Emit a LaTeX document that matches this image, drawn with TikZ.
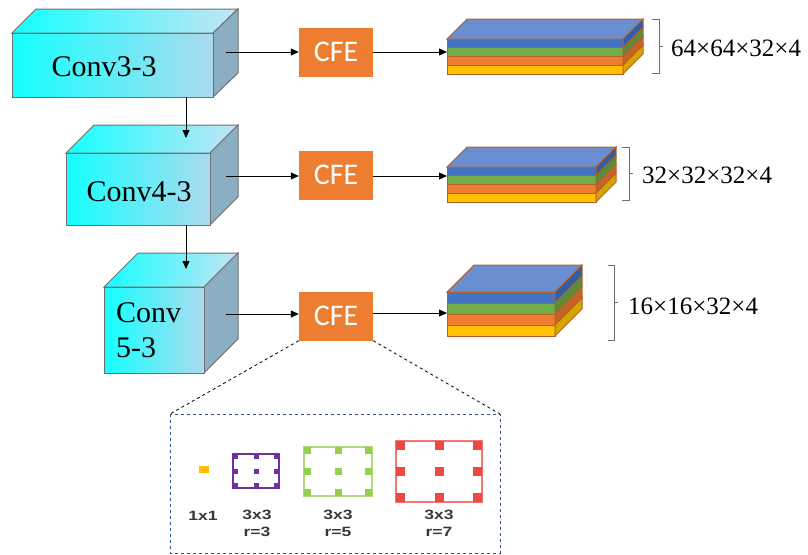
\documentclass[tikz,border=0pt]{standalone}
\usepackage{fontspec}
\setmainfont{Liberation Serif}
\newfontfamily\cfefont{Carlito}
\newfontfamily\lblfont{Liberation Sans}
\usetikzlibrary{arrows.meta}
\definecolor{cyanL}{RGB}{20,255,255}
\definecolor{cyanR}{RGB}{172,218,238}
\definecolor{topR}{RGB}{196,228,244}
\definecolor{sideC}{RGB}{138,175,194}
\definecolor{boxedge}{RGB}{112,112,112}
\definecolor{cfeC}{RGB}{237,125,49}
\definecolor{edgeC}{RGB}{184,96,40}
\definecolor{topblue}{RGB}{106,143,208}
\definecolor{lblue}{RGB}{68,114,196}
\definecolor{dblue}{RGB}{52,92,160}
\definecolor{lgreen}{RGB}{112,173,71}
\definecolor{dgreen}{RGB}{88,140,56}
\definecolor{lorange}{RGB}{237,125,49}
\definecolor{dorange}{RGB}{196,100,40}
\definecolor{lyellow}{RGB}{255,192,0}
\definecolor{dyellow}{RGB}{214,165,0}
\definecolor{dashblue}{RGB}{47,85,151}
\definecolor{kpurple}{RGB}{112,48,160}
\definecolor{kgreen}{RGB}{146,208,80}
\definecolor{kgreenL}{RGB}{170,220,120}
\definecolor{kred}{RGB}{236,72,68}
\definecolor{kredL}{RGB}{240,120,115}
\definecolor{kyellow}{RGB}{255,192,0}
\definecolor{brace}{RGB}{110,110,110}
\tikzset{
  arr/.style={-{Triangle[length=8pt,width=7pt]}, line width=0.8pt, black},
  cfebox/.style={fill=cfeC, text=white, minimum width=74pt, minimum height=49pt, inner sep=0pt, font=\cfefont\fontsize{30}{30}\selectfont},
  convtxt/.style={font=\fontsize{30}{32}\selectfont, inner sep=0pt},
  dimtxt/.style={font=\fontsize{25}{26}\selectfont, anchor=west, inner sep=0pt},
  ktxt/.style={font=\lblfont\bfseries\fontsize{13.5}{16.5}\selectfont, text=black!78, align=center, inner sep=0pt},
  bracestyle/.style={draw=brace, line width=0.9pt},
}
\newcommand{\ks}[1]{\scalebox{1.3}[1]{#1}}
\newcommand{\convbox}[5]{% x1 y1 x2 y2 d
  \filldraw[left color=cyanL, right color=topR, draw=boxedge, line width=1pt]
    (#1,#2) -- (#1+#5,#2-#5) -- (238,#2-#5) -- (#3,#2) -- cycle;
  \filldraw[fill=sideC, draw=boxedge, line width=1pt]
    (#3,#2) -- (238,#2-#5) -- (238,#4-#5) -- (#3,#4) -- cycle;
  \filldraw[left color=cyanL, right color=cyanR, draw=boxedge, line width=1pt]
    (#1,#2) rectangle (#3,#4);
}
\newcommand{\myslab}[5]{% x1 y1 x2 y2 d
  \pgfmathsetmacro{\hh}{(#4-#2)/4}
  \filldraw[fill=topblue, draw=edgeC, line width=1pt]
    (#1,#2) -- (#1+#5,#2-#5) -- (#3+#5,#2-#5) -- (#3,#2) -- cycle;
  \foreach \cc/\ss [count=\ii from 0] in {lblue/dblue,lgreen/dgreen,lorange/dorange,lyellow/dyellow}{
    \pgfmathsetmacro{\ya}{#2+\ii*\hh}
    \pgfmathsetmacro{\yb}{#2+(\ii+1)*\hh}
    \filldraw[fill=\cc, draw=edgeC, line width=1pt] (#1,\ya) rectangle (#3,\yb);
    \filldraw[fill=\ss, draw=edgeC, line width=1pt] (#3,\ya) -- (#3+#5,\ya-#5) -- (#3+#5,\yb-#5) -- (#3,\yb) -- cycle;
  }
}
\newcommand{\mybrace}[4]{% x0 x1 ytop ybot
  \draw[bracestyle] (#1,#3) -- (#2,#3) -- (#2,#4) -- (#1,#4);
  \draw[bracestyle] (#2,{(#3+#4)/2}) -- (#2+4,{(#3+#4)/2});
}
\newcommand{\kernel}[7]{% x1 y1 x2 y2 s dotcolor linecolor
  \draw[#7, line width=1.6pt] (#1,#2) rectangle (#3,#4);
  \foreach \px in {#1+#5/2, (#1+#3)/2, #3-#5/2}{
    \foreach \py in {#2+#5/2, (#2+#4)/2, #4-#5/2}{
      \fill[#6] ({\px-#5/2},{\py-#5/2}) rectangle ({\px+#5/2},{\py+#5/2});
    }
  }
}
\begin{document}
\begin{tikzpicture}[x=1pt, y=-1pt]
\useasboundingbox (0,0) rectangle (808,554);

% conv boxes
\convbox{12}{33}{213}{97}{24}
\convbox{66}{153}{210}{225}{28}
\convbox{104}{287}{204}{373}{34}
\node[convtxt] (conv1) at (104,67) {Conv3-3};
\node[convtxt] (conv2) at (139,192) {Conv4-3};
\node[convtxt, anchor=west, align=left, font=\fontsize{30}{35}\selectfont] (conv3) at (116,330) {Conv\\5-3};

\coordinate (c1b) at (186,97);
\coordinate (c2t) at (186,138);
\coordinate (c2b) at (186,225);
\coordinate (c3t) at (186,269);
\draw[arr] (c1b) -- (c2t);
\draw[arr] (c2b) -- (c3t);

% CFE boxes
\node[cfebox] (cfe1) at (336,52) {CFE};
\node[cfebox] (cfe2) at (336,175) {CFE};
\node[cfebox] (cfe3) at (336,316) {CFE};

\coordinate (o1) at (226,52);
\coordinate (o2) at (226,176);
\coordinate (o3) at (226,314);
\draw[arr] (o1) -- (o1 -| cfe1.west);
\draw[arr] (o2) -- (o2 -| cfe2.west);
\draw[arr] (o3) -- (o3 -| cfe3.west);

% slabs
\myslab{447}{39}{623}{74}{20}
\myslab{447}{167}{596}{202}{20}
\myslab{447}{292}{555}{336}{27}
\coordinate (s1) at (447,52);
\coordinate (s2) at (447,176);
\coordinate (s3) at (447,313);
\draw[arr] (cfe1.east |- s1) -- (s1);
\draw[arr] (cfe2.east |- s2) -- (s2);
\draw[arr] (cfe3.east |- s3) -- (s3);

% braces and labels
\mybrace{652}{659}{19}{73}
\mybrace{622}{629}{147}{200}
\mybrace{608}{614}{265}{340}
\node[dimtxt] (d1) at (671,48) {64×64×32×4};
\node[dimtxt] (d2) at (642,175) {32×32×32×4};
\node[dimtxt] (d3) at (628,306) {16×16×32×4};

% detail box
\coordinate (dl) at (170,414);
\coordinate (dr) at (500,414);
\draw[dashed, line width=0.8pt] (cfe3.south west) -- (dl);
\draw[dashed, line width=0.8pt] (cfe3.south east) -- (dr);
\draw[dashblue, dashed, line width=1pt] (dl) rectangle (500,553);

\fill[kyellow] (199,466) rectangle (209,473);
\kernel{233}{454}{279}{488}{5}{kpurple}{kpurple}
\kernel{304}{447}{372}{496}{7}{kgreen}{kgreenL}
\kernel{396}{441}{482}{502}{9}{kred}{kredL}

\node[ktxt] (k1) at (203,516) {\ks{1x1}};
\node[ktxt, anchor=north] (k2) at (257,510) {\ks{3x3}\\\ks{r=3}};
\node[ktxt, anchor=north] (k3) at (338,510) {\ks{3x3}\\\ks{r=5}};
\node[ktxt, anchor=north] (k4) at (439,510) {\ks{3x3}\\\ks{r=7}};
\end{tikzpicture}
\end{document}
